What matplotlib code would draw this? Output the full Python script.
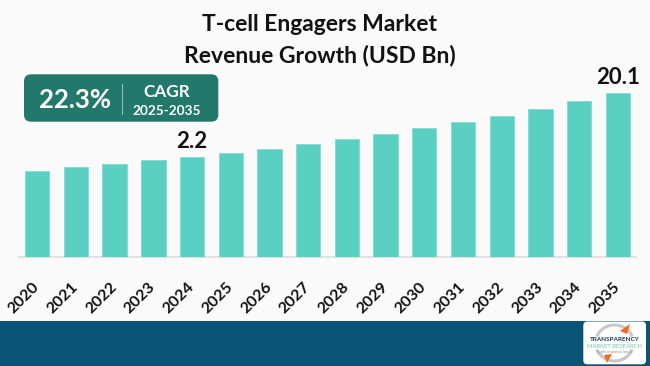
import matplotlib
matplotlib.use("Agg")
import matplotlib.pyplot as plt
from matplotlib.patches import FancyBboxPatch, Rectangle, Arc, Polygon

# ---------------- data ----------------
years = ["2020", "2021", "2022", "2023", "2024", "2025", "2026", "2027",
         "2028", "2029", "2030", "2031", "2032", "2033", "2034", "2035"]
# relative bar heights as pictured (the chart is illustrative, not to scale)
bar_heights = [86.6, 90.0, 93.3, 97.0, 100.6, 104.6, 108.3, 113.0,
               118.0, 123.3, 129.0, 135.0, 141.6, 148.6, 156.3, 164.3]
value_labels = {"2024": "2.2", "2035": "20.1"}
title_lines = ["T-cell Engagers Market", "Revenue Growth (USD Bn)"]
cagr_value = "22.3%"
cagr_label = "CAGR"
cagr_period = "2025-2035"

# ---------------- style ----------------
FONT = ["Lato", "DejaVu Sans"]
plt.rcParams["font.family"] = FONT
BG = "#FAFAFA"
BAR = "#5AD0C3"
BOX = "#23786C"
BAND = "#0A5476"

W, H = 650, 366
fig = plt.figure(figsize=(W / 100, H / 100), dpi=100, facecolor=BG)

# overlay axes in pixel coordinates for decorations
deco = fig.add_axes([0, 0, 1, 1], zorder=0)
deco.set_xlim(0, W)
deco.set_ylim(H, 0)
deco.axis("off")
deco.set_facecolor(BG)

# bottom band
deco.add_patch(Rectangle((0, 320.5), W, H - 320.5, color=BAND, lw=0))

# title
deco.text(320, 31, title_lines[0], ha="center", va="baseline",
          fontsize=16.5, fontweight="bold", color="#111111")
deco.text(320, 62.3, title_lines[1], ha="center", va="baseline",
          fontsize=16.5, fontweight="bold", color="#111111")

# CAGR box
deco.add_patch(FancyBboxPatch((24, 74.3), 194.3, 47.4,
                              boxstyle="round,pad=0,rounding_size=7",
                              fc=BOX, ec="none"))
deco.plot([121.7, 121.7], [84.3, 114.3], color="#8FBDB6", lw=0.8)
deco.text(75, 107.7, cagr_value, ha="center", va="baseline",
          fontsize=18.5, fontweight="bold", color="white")
deco.text(167, 97.3, cagr_label, ha="center", va="baseline",
          fontsize=12.3, fontweight="bold", color="white")
deco.text(167, 115, cagr_period, ha="center", va="baseline",
          fontsize=9.8, fontweight="bold", color="white")

# logo
deco.add_patch(FancyBboxPatch((583.3, 321.5), 62.7, 42.8,
                              boxstyle="round,pad=0,rounding_size=4",
                              fc="white", ec="none"))
deco.add_patch(Arc((614.5, 343), 38, 36, theta1=200, theta2=340,
                   color="#C8C8C8", lw=2.2))
deco.add_patch(Arc((614.5, 343), 38, 36, theta1=20, theta2=160,
                   color="#C8C8C8", lw=2.2))
deco.add_patch(Polygon([[620, 331], [630, 324], [627, 334]], closed=True,
                       fc="#F26B21", ec="none"))
deco.add_patch(Polygon([[604, 355], [612, 354], [607, 363]], closed=True,
                       fc="#F26B21", ec="none"))
deco.text(614.5, 341, "TRANSPARENCY", ha="center", va="baseline",
          fontsize=4.6, fontweight="bold", color="#1B3A5C")
deco.text(614.5, 348, "MARKET RESEARCH", ha="center", va="baseline",
          fontsize=4.2, color="#6CC6A4")
deco.text(614.5, 352.5, "Insight. Innovation. Impact.", ha="center",
          va="baseline", fontsize=2.2, color="#888888")

# ---------------- bars ----------------
base_px = 257.3
ax = fig.add_axes([0, (H - base_px) / H, 1, base_px / H], zorder=2)
ax.patch.set_alpha(0)
x = list(range(len(years)))
ax.bar(x, bar_heights, width=0.628, color=BAR, edgecolor="#7EDDD2",
       linewidth=0.6, zorder=2)
ax.set_xlim(-0.9625, 15.833)
ax.set_ylim(0, base_px)
ax.hlines(0, -0.49, 15.5, color="#DCDCDC", lw=1.2, zorder=1, clip_on=False)

for i, yr in enumerate(years):
    if yr in value_labels:
        ax.annotate(value_labels[yr], (i, bar_heights[i]), xytext=(0, 6.3),
                    textcoords="offset points", ha="center", va="baseline",
                    fontsize=16, fontweight="bold", color="#111111")

ax.set_xticks(x)
ax.set_xticklabels(years, rotation=45, ha="right", va="center",
                   rotation_mode="anchor", fontsize=11.5, fontweight="bold",
                   color="#111111")
ax.tick_params(axis="x", length=0, pad=20)
ax.set_yticks([])
for s in ax.spines.values():
    s.set_visible(False)

fig.savefig("out.png", dpi=100, facecolor=BG)
